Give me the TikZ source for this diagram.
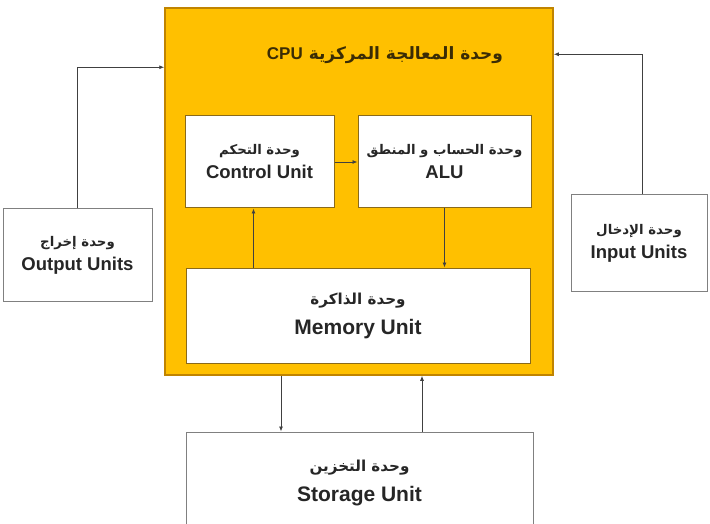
\documentclass[tikz,border=0pt]{standalone}
\usepackage{fontspec}
\setmainfont{Liberation Sans}
\newfontfamily\arabicfont[Script=Arabic,Scale=0.72]{DejaVu Sans}
\TeXXeTstate=1
\usetikzlibrary{arrows.meta}
\definecolor{cpuyellow}{HTML}{FFC000}
\definecolor{cpuedge}{HTML}{C08400}
\definecolor{unitedge}{HTML}{8A6A1A}
\definecolor{outedge}{HTML}{808080}
\definecolor{txtgray}{HTML}{262626}
\definecolor{titlebrown}{HTML}{3A2C05}
\newcommand{\artext}[1]{{\arabicfont\beginR #1\endR}}
\tikzset{
    unit/.style={draw=outedge,line width=1pt,fill=white,align=center,text=txtgray,
        font=\fontsize{18.5}{20}\selectfont\bfseries},
    bigunit/.style={unit,font=\fontsize{21}{23}\selectfont\bfseries},
    inunit/.style={unit,draw=unitedge},
    link/.style={-{Latex[length=5pt,width=4pt]},line width=0.8pt,draw=black!75},
}

\begin{document}
\begin{tikzpicture}[x=1pt,y=-1pt]
            \clip (0,0) rectangle (710,524);
            \node[draw=cpuedge,line width=1.5pt,fill=cpuyellow,inner sep=0pt,minimum width=388pt,minimum height=367pt] (cpu) at (359,191.5){};
            \node[text=titlebrown,font=\fontsize{17}{20}\selectfont\bfseries] (title) at (385,55){{\arabicfont\beginR\fontsize{23.6}{26}\selectfont وحدة المعالجة المركزية \beginL{\rmfamily\fontsize{17}{20}\selectfont CPU}\endL\endR}};
            \node[inunit,minimum width=149pt,minimum height=92pt,inner sep=0pt] (ctrl) at (259.5,162){\artext{وحدة التحكم}\\[4pt]Control Unit};
            \node[inunit,minimum width=173pt,minimum height=92pt,inner sep=0pt] (alu) at (444.5,162){\artext{وحدة الحساب و المنطق}\\[4pt]ALU};
            \node[inunit,bigunit,draw=unitedge,minimum width=344pt,minimum height=95pt] (mem) at (358,315.5){\artext{وحدة الذاكرة}\\[7pt]Memory Unit};
            \node[unit,minimum width=149pt,minimum height=92pt,inner sep=0pt] (out) at (77.5,255){\artext{وحدة إخراج}\\[4pt]Output Units};
            \node[unit,minimum width=136pt,minimum height=96pt,inner sep=0pt] (in) at (639,243){\artext{وحدة الإدخال}\\[4pt]Input Units};
            \node[bigunit,minimum width=347pt,minimum height=102pt] (stor) at (359.5,483){\artext{وحدة التخزين}\\[7pt]Storage Unit};
            \draw[link] (ctrl.east)--(alu.west);
            \draw[link] ([xshift=-6pt]ctrl.south |- mem.north)--([xshift=-6pt]ctrl.south);
            \draw[link] (alu.south)--(alu.south |- mem.north);
            \draw[link] (out.north) |- ([yshift=-60pt]cpu.north west);
            \draw[link] ([xshift=3pt]in.north) |- ([yshift=-47pt]cpu.north east);
            \draw[link] ([xshift=-78pt]cpu.south)--([xshift=-78pt]cpu.south |- stor.north);
            \draw[link] ([xshift=63pt]cpu.south |- stor.north)--([xshift=63pt]cpu.south);
        \end{tikzpicture}
\end{document}
